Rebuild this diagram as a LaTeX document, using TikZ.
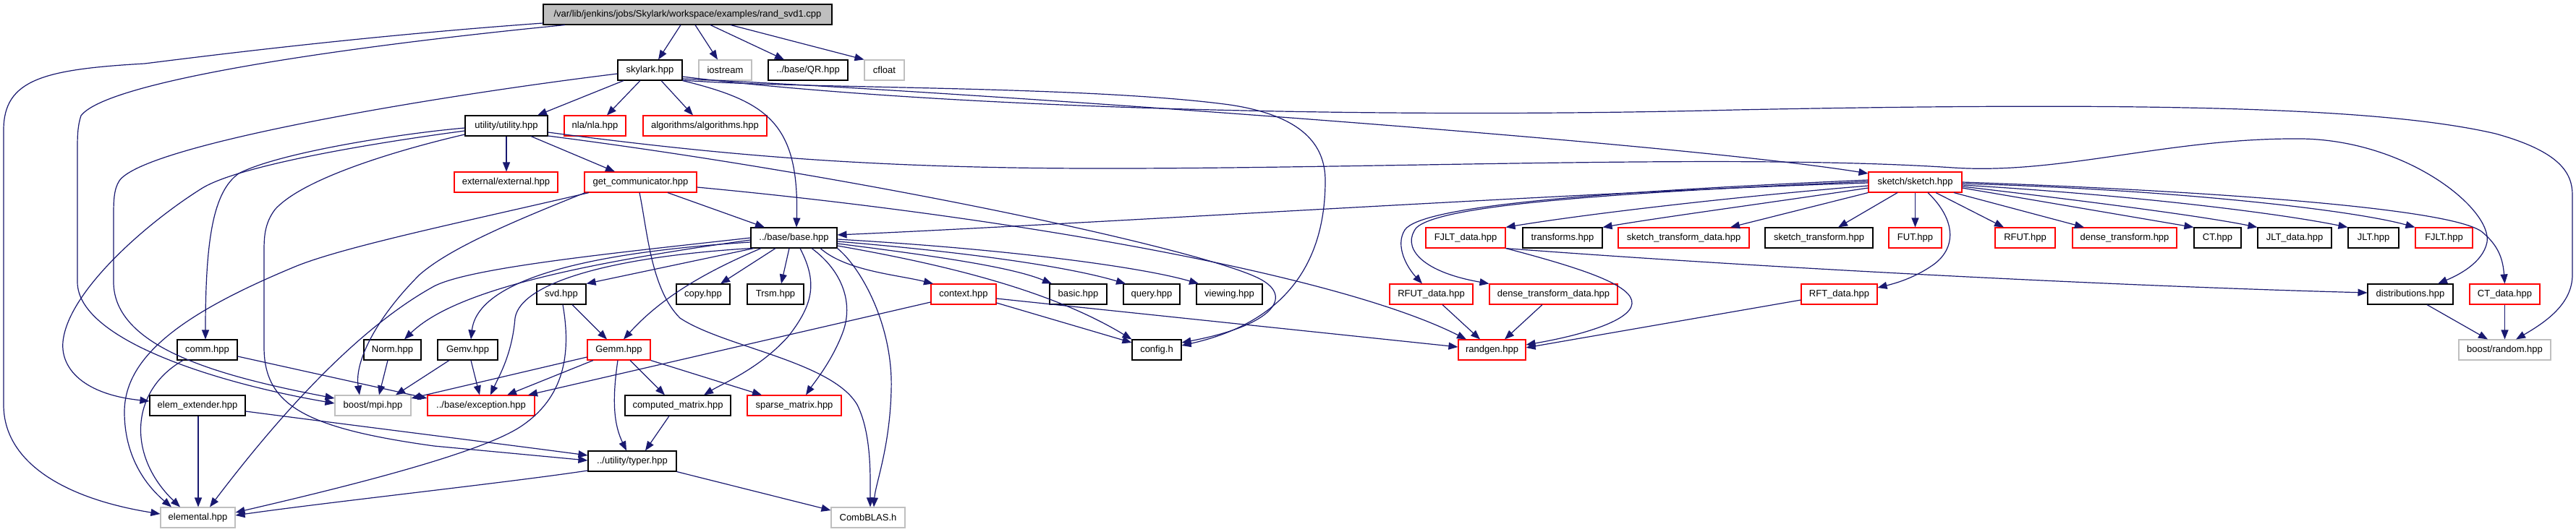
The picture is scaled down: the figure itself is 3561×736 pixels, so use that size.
\documentclass[tikz,border=0pt]{standalone}
\usepackage{fontspec}
\setmainfont{Liberation Sans}
\usetikzlibrary{arrows.meta}
\definecolor{edgec}{HTML}{191970}
\definecolor{greyc}{HTML}{BFBFBF}
\definecolor{redc}{HTML}{FF0000}
\newcommand\lbfont{\fontsize{13pt}{15pt}\selectfont}
\newcommand\mkbox[7]{\node[#1, minimum width={(#4-#3)*1pt}, minimum height={(#6-#5)*1pt}] (#2) at ({(#3+#4)/2},{(#5+#6)/2}) {#7};}
\begin{document}
\begin{tikzpicture}[x=1pt,y=-1pt,
  box/.style={rectangle,inner sep=0pt,line width=1.1pt,font=\lbfont,text=black},
  bk/.style={box,draw=black},
  rd/.style={box,draw=redc},
  gy/.style={box,draw=greyc},
  rt/.style={box,draw=black,fill=greyc},
  edg/.style={draw=edgec,line width=1.2pt,-{Triangle[length=13pt,width=10pt]}}]
\fill[white] (0,0) rectangle (3561,736);
\useasboundingbox (0,0) rectangle (3561,736);
% nodes
\mkbox{rt}{root}{751}{1150}{6}{34}{/var/lib/jenkins/jobs/Skylark/workspace/examples/rand\_svd1.cpp}
\mkbox{bk}{skylark}{854}{943}{83}{111}{skylark.hpp}
\mkbox{gy}{iostream}{966}{1039}{83}{111}{iostream}
\mkbox{bk}{qr}{1062}{1172}{83}{111}{../base/QR.hpp}
\mkbox{gy}{cfloat}{1195}{1250}{83}{111}{cfloat}
\mkbox{bk}{utility}{643}{757}{160}{188}{utility/utility.hpp}
\mkbox{rd}{nla}{780}{865}{160}{188}{nla/nla.hpp}
\mkbox{rd}{algo}{889}{1060}{160}{188}{algorithms/algorithms.hpp}
\mkbox{rd}{external}{628}{771}{238}{266}{external/external.hpp}
\mkbox{rd}{getcomm}{808}{963}{238}{266}{get\_communicator.hpp}
\mkbox{rd}{sketch}{2583}{2712}{238}{266}{sketch/sketch.hpp}
\mkbox{bk}{base}{1038}{1157}{315}{343}{../base/base.hpp}
\mkbox{rd}{fjltdata}{1971}{2081}{315}{343}{FJLT\_data.hpp}
\mkbox{bk}{transforms}{2105}{2215}{315}{343}{transforms.hpp}
\mkbox{rd}{stdata}{2237}{2418}{315}{343}{sketch\_transform\_data.hpp}
\mkbox{bk}{stransform}{2440}{2589}{315}{343}{sketch\_transform.hpp}
\mkbox{rd}{fut}{2611}{2684}{315}{343}{FUT.hpp}
\mkbox{rd}{rfut}{2758}{2841}{315}{343}{RFUT.hpp}
\mkbox{rd}{densetr}{2865}{3009}{315}{343}{dense\_transform.hpp}
\mkbox{bk}{ct}{3033}{3098}{315}{343}{CT.hpp}
\mkbox{bk}{jltdata}{3121}{3223}{315}{343}{JLT\_data.hpp}
\mkbox{bk}{jlt}{3246}{3316}{315}{343}{JLT.hpp}
\mkbox{rd}{fjlt}{3339}{3418}{315}{343}{FJLT.hpp}
\mkbox{bk}{svd}{742}{810}{393}{421}{svd.hpp}
\mkbox{bk}{copy}{935}{1009}{393}{421}{copy.hpp}
\mkbox{bk}{trsm}{1033}{1111}{393}{421}{Trsm.hpp}
\mkbox{rd}{context}{1287}{1377}{393}{421}{context.hpp}
\mkbox{bk}{basic}{1451}{1530}{393}{421}{basic.hpp}
\mkbox{bk}{query}{1553}{1631}{393}{421}{query.hpp}
\mkbox{bk}{viewing}{1654}{1745}{393}{421}{viewing.hpp}
\mkbox{rd}{rfutdata}{1921}{2036}{393}{421}{RFUT\_data.hpp}
\mkbox{rd}{dtdata}{2059}{2236}{393}{421}{dense\_transform\_data.hpp}
\mkbox{rd}{rftdata}{2490}{2595}{393}{421}{RFT\_data.hpp}
\mkbox{bk}{distrib}{3273}{3391}{393}{421}{distributions.hpp}
\mkbox{rd}{ctdata}{3414}{3511}{393}{421}{CT\_data.hpp}
\mkbox{bk}{comm}{245}{328}{470}{498}{comm.hpp}
\mkbox{bk}{norm}{503}{582}{470}{498}{Norm.hpp}
\mkbox{bk}{gemv}{605}{688}{470}{498}{Gemv.hpp}
\mkbox{rd}{gemm}{812}{899}{470}{498}{Gemm.hpp}
\mkbox{bk}{config}{1565}{1633}{470}{498}{config.h}
\mkbox{rd}{randgen}{2016}{2109}{470}{498}{randgen.hpp}
\mkbox{gy}{brandom}{3399}{3526}{470}{498}{boost/random.hpp}
\mkbox{bk}{elemext}{207}{339}{547}{575}{elem\_extender.hpp}
\mkbox{gy}{bmpi}{463}{568}{547}{575}{boost/mpi.hpp}
\mkbox{rd}{exception}{591}{739}{547}{575}{../base/exception.hpp}
\mkbox{bk}{computed}{864}{1010}{547}{575}{computed\_matrix.hpp}
\mkbox{rd}{sparse}{1033}{1163}{547}{575}{sparse\_matrix.hpp}
\mkbox{bk}{typer}{813}{935}{624}{652}{../utility/typer.hpp}
\mkbox{gy}{elemental}{222}{325}{702}{730}{elemental.hpp}
\mkbox{gy}{combblas}{1149}{1251}{702}{730}{CombBLAS.h}
% root edges
\draw[edg] (root.south -| 941,0) -- (skylark.north -| 910,0);
\draw[edg] (root.south -| 961,0) -- (iostream.north -| 992,0);
\draw[edg] (root.south -| 982,0) -- (qr.north -| 1084,0);
\draw[edg] (root.south -| 1010,0) -- (cfloat.north west);
\draw[edg] (root.west |- 0,32) .. controls (500,50) and (280,78) .. (200,88) .. controls (60,96) and (5,110) .. (5,180) -- (5,560) .. controls (5,640) and (90,690) .. (elemental.west |- 0,711);
\draw[edg] (root.south -| 781,0) .. controls (500,62) and (150,110) .. (112,160) .. controls (107,175) and (107,190) .. (107,210) -- (107,390) .. controls (107,470) and (300,530) .. (bmpi.west |- 0,558);
% skylark edges
\draw[edg] (skylark.west |- 0,102) .. controls (600,133) and (200,200) .. (165,250) .. controls (157,262) and (157,280) .. (157,300) -- (157,390) .. controls (157,480) and (300,520) .. (bmpi.west |- 0,551);
\draw[edg] (skylark.south -| 862,0) -- (utility.north -| 743,0);
\draw[edg] (skylark.south -| 885,0) -- (nla.north -| 839,0);
\draw[edg] (skylark.south -| 914,0) -- (algo.north -| 958,0);
\draw[edg] (skylark.south east) .. controls (1060,140) and (1105,170) .. (base.north -| 1101,0);
\draw[edg] (skylark.east |- 0,109) .. controls (1300,125) and (2300,195) .. (sketch.west |- 0,240);
\draw[edg] (skylark.east |- 0,106) .. controls (1300,150) and (1900,165) .. (2400,152) .. controls (3000,140) and (3300,150) .. (3450,185) .. controls (3540,210) and (3556,240) .. (3556,270) -- (3556,380) .. controls (3556,420) and (3520,445) .. (brandom.north -| 3478,0);
\draw[edg] (skylark.east |- 0,111) .. controls (1100,123) and (1500,118) .. (1700,145) .. controls (1800,160) and (1832,200) .. (1832,250) .. controls (1832,380) and (1760,450) .. (config.east |- 0,478);
% utility edges
\draw[edg] (utility.south -| 700,0) -- (external.north -| 700,0);
\draw[edg] (utility.south -| 734,0) -- (getcomm.north -| 850,0);
\draw[edg] (utility.west |- 0,177) .. controls (550,185) and (383,212) .. (330,240) .. controls (295,265) and (284,330) .. (comm.north -| 284,0);
\draw[edg] (utility.west |- 0,181) .. controls (500,200) and (330,230) .. (280,260) .. controls (200,310) and (100,400) .. (88,466) .. controls (80,505) and (110,545) .. (elemext.west |- 0,555);
\draw[edg] (utility.west |- 0,186) .. controls (560,205) and (420,245) .. (380,290) .. controls (365,310) and (365,330) .. (365,350) -- (365,480) .. controls (365,560) and (420,592) .. (600,617) -- (typer.west |- 0,637);
\draw[edg] (utility.east |- 0,183) .. controls (1000,215) and (1200,232) .. (1500,233) .. controls (1900,234) and (2400,212) .. (2700,232) .. controls (2850,242) and (3000,190) .. (3183,192) .. controls (3330,195) and (3445,290) .. (3438,335) .. controls (3432,365) and (3395,382) .. (distrib.north -| 3370,0);
\draw[edg] (utility.east |- 0,188) .. controls (1200,245) and (1660,345) .. (1740,385) .. controls (1790,410) and (1760,450) .. (config.east |- 0,474);
% get_communicator edges
\draw[edg] (getcomm.south -| 923,0) -- (base.north -| 1057,0);
\draw[edg] (getcomm.south -| 814,0) .. controls (650,305) and (480,340) .. (410,368) .. controls (260,430) and (172,490) .. (172,570) .. controls (172,630) and (200,670) .. (elemental.north -| 237,0);
\draw[edg] (getcomm.south -| 809,0) .. controls (700,310) and (620,345) .. (580,380) .. controls (520,440) and (490,500) .. (bmpi.north -| 497,0);
\draw[edg] (getcomm.south -| 884,0) .. controls (895,320) and (900,400) .. (940,440) .. controls (1000,480) and (1150,500) .. (1185,560) .. controls (1205,600) and (1203,660) .. (combblas.north -| 1203,0);
\draw[edg] (getcomm.east |- 0,259) .. controls (1400,300) and (1850,380) .. (randgen.north -| 2027,0);
% base edges
\draw[edg] (base.west |- 0,329) .. controls (850,350) and (650,370) .. (600,396) .. controls (520,440) and (420,530) .. (elemental.north -| 290,0);
\draw[edg] (base.west |- 0,332) .. controls (760,370) and (620,410) .. (norm.north -| 559,0);
\draw[edg] (base.west |- 0,335) .. controls (800,350) and (660,390) .. (gemv.north -| 651,0);
\draw[edg] (base.south west) .. controls (850,355) and (720,390) .. (712,440) .. controls (708,490) and (690,520) .. (exception.north -| 678,0);
\draw[edg] (base.south -| 1042,0) -- (svd.north east);
\draw[edg] (base.south -| 1052,0) .. controls (990,370) and (920,405) .. (gemm.north -| 862,0);
\draw[edg] (base.south -| 1072,0) -- (copy.north -| 996,0);
\draw[edg] (base.south -| 1091,0) -- (trsm.north -| 1080,0);
\draw[edg] (base.south -| 1106,0) .. controls (1130,390) and (1125,420) .. (1090,465) .. controls (1050,510) and (1000,530) .. (computed.north -| 973,0);
\draw[edg] (base.south -| 1122,0) .. controls (1165,375) and (1180,420) .. (1165,460) .. controls (1150,500) and (1125,530) .. (sparse.north -| 1114,0);
\draw[edg] (base.south -| 1134,0) .. controls (1170,375) and (1240,380) .. (context.north -| 1290,0);
\draw[edg] (base.south east) .. controls (1190,370) and (1235,450) .. (1232,540) .. controls (1230,620) and (1210,670) .. (combblas.north -| 1208,0);
\draw[edg] (base.east |- 0,340) .. controls (1300,365) and (1450,400) .. (config.north west);
\draw[edg] (base.east |- 0,337) .. controls (1300,355) and (1400,370) .. (basic.north -| 1454,0);
\draw[edg] (base.east |- 0,334) .. controls (1350,350) and (1480,370) .. (query.north -| 1556,0);
\draw[edg] (base.east |- 0,331) .. controls (1400,345) and (1580,370) .. (viewing.north -| 1657,0);
% sketch edges
\draw[edg] (sketch.west |- 0,253) .. controls (2200,265) and (1500,310) .. (base.east |- 0,325);
\draw[edg] (sketch.west |- 0,249) .. controls (2200,266) and (1965,285) .. (1942,318) .. controls (1928,340) and (1945,370) .. (rfutdata.north -| 1966,0);
\draw[edg] (sketch.west |- 0,251) .. controls (2200,268) and (1990,285) .. (1958,315) .. controls (1938,340) and (1960,375) .. (dtdata.north west);
\draw[edg] (sketch.west |- 0,257) .. controls (2400,272) and (2200,295) .. (fjltdata.north east);
\draw[edg] (sketch.west |- 0,260) .. controls (2450,280) and (2300,300) .. (transforms.north east);
\draw[edg] (sketch.south west) -- (stdata.north -| 2392,0);
\draw[edg] (sketch.south -| 2623,0) -- (stransform.north -| 2541,0);
\draw[edg] (sketch.south) -- (fut.north);
\draw[edg] (sketch.south -| 2665,0) .. controls (2705,305) and (2705,345) .. (2670,368) .. controls (2645,385) and (2620,392) .. (rftdata.east |- 0,398);
\draw[edg] (sketch.south -| 2676,0) -- (rfut.north -| 2770,0);
\draw[edg] (sketch.south -| 2701,0) -- (densetr.north -| 2881,0);
\draw[edg] (sketch.east |- 0,260) -- (ct.north west);
\draw[edg] (sketch.east |- 0,258) .. controls (2900,280) and (3050,300) .. (jltdata.north west);
\draw[edg] (sketch.east |- 0,256) .. controls (2950,270) and (3150,295) .. (jlt.north west);
\draw[edg] (sketch.east |- 0,254) .. controls (3000,262) and (3250,290) .. (fjlt.north west);
\draw[edg] (sketch.east |- 0,252) .. controls (3000,262) and (3380,285) .. (3430,320) .. controls (3455,340) and (3460,360) .. (ctdata.north);
% lower edges
\draw[edg] (svd.south -| 791,0) -- (gemm.north -| 839,0);
\draw[edg] (svd.south -| 778,0) .. controls (790,490) and (780,550) .. (720,590) .. controls (660,630) and (450,680) .. (elemental.east |- 0,709);
\draw[edg] (gemv.south -| 651,0) -- (exception.north -| 663,0);
\draw[edg] (gemv.south -| 621,0) -- (bmpi.north -| 547,0);
\draw[edg] (norm.south -| 536,0) -- (bmpi.north -| 524,0);
\draw[edg] (gemm.south -| 820,0) -- (exception.north -| 701,0);
\draw[edg] (gemm.west |- 0,494) -- (bmpi.east |- 0,551);
\draw[edg] (gemm.south -| 871,0) -- (computed.north -| 919,0);
\draw[edg] (gemm.south east) -- (sparse.north -| 1053,0);
\draw[edg] (gemm.south -| 854,0) .. controls (845,560) and (850,590) .. (typer.north -| 866,0);
\draw[edg] (computed.south -| 925,0) -- (typer.north -| 892,0);
\draw[edg] (comm.south -| 253,0) .. controls (180,540) and (175,630) .. (elemental.north -| 249,0);
\draw[edg] (comm.east |- 0,493) -- (exception.west |- 0,551);
\draw[edg] (elemext.south -| 274,0) -- (elemental.north -| 274,0);
\draw[edg] (elemext.east |- 0,569) .. controls (500,590) and (700,615) .. (typer.west |- 0,630);
\draw[edg] (typer.south east) -- (combblas.west |- 0,706);
\draw[edg] (typer.west |- 0,651) .. controls (700,668) and (450,695) .. (elemental.east |- 0,713);
\draw[edg] (context.west |- 0,418) -- (exception.north -| 730,0);
\draw[edg] (context.east |- 0,419) -- (config.west |- 0,474);
\draw[edg] (context.east |- 0,413) -- (randgen.west |- 0,480);
\draw[edg] (rfutdata.south -| 1994,0) -- (randgen.north -| 2046,0);
\draw[edg] (dtdata.south -| 2132,0) -- (randgen.north -| 2080,0);
\draw[edg] (fjltdata.south east) .. controls (2190,372) and (2258,395) .. (2256,420) .. controls (2254,445) and (2180,465) .. (randgen.east |- 0,477);
\draw[edg] (fjltdata.south east) .. controls (2400,368) and (2900,395) .. (distrib.west |- 0,405);
\draw[edg] (rftdata.west |- 0,415) -- (randgen.east |- 0,481);
\draw[edg] (distrib.south -| 3355,0) -- (brandom.north -| 3439,0);
\draw[edg] (ctdata.south) -- (brandom.north);
\end{tikzpicture}
\end{document}
